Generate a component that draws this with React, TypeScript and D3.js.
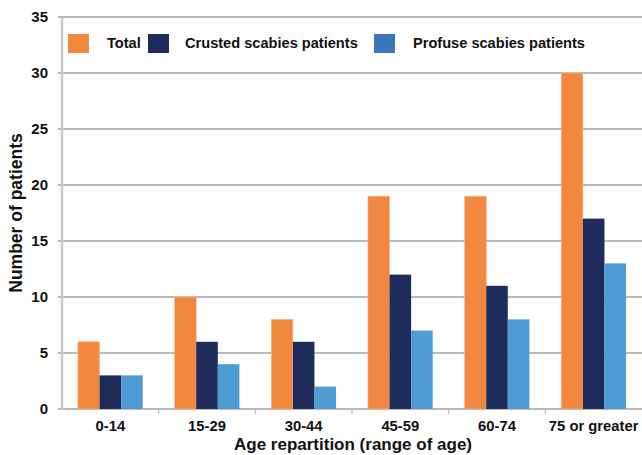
import React from "react";
import * as d3 from "d3";

const WIDTH = 642;
const HEIGHT = 455;
const MARGIN = { top: 17, right: 0, bottom: 46, left: 62 };

const categories = ["0-14", "15-29", "30-44", "45-59", "60-74", "75 or greater"];
const seriesKeys = ["Total", "Crusted scabies patients", "Profuse scabies patients"];
const totalValues = [6, 10, 8, 19, 19, 30];
const crustedValues = [3, 6, 6, 12, 11, 17];
const profuseValues = [3, 4, 2, 7, 8, 13];
const yTicks = [0, 5, 10, 15, 20, 25, 30, 35];

const barColors = ["#f2873f", "#1d2c5b", "#4e9bd5"];
const legendColors = ["#f2873f", "#1d2c5b", "#3c74bb"];
const FONT = "'Liberation Sans', Arial, sans-serif";

const App = () => {
  const boundsWidth = WIDTH - MARGIN.left - MARGIN.right;
  const boundsHeight = HEIGHT - MARGIN.top - MARGIN.bottom;
  const values = [totalValues, crustedValues, profuseValues];

  const xScale = d3.scaleBand().domain(categories).range([0, boundsWidth]).padding(0);
  const groupWidth = xScale.bandwidth() * 0.67;
  const xInner = d3
    .scaleBand()
    .domain(seriesKeys)
    .range([(xScale.bandwidth() - groupWidth) / 2, (xScale.bandwidth() + groupWidth) / 2]);
  const yScale = d3.scaleLinear().domain([0, 35]).range([boundsHeight, 0]);

  // legend swatch / label offsets from plot left
  const legendX = [6, 86, 312];
  const legendTextX = [45, 123, 351];

  return (
    <svg width={WIDTH} height={HEIGHT} style={{ position: "absolute", left: 0, top: 0 }}>
      <rect width={WIDTH} height={HEIGHT} fill="#fff" />
      <g transform={`translate(${MARGIN.left},${MARGIN.top})`}>
        {/* grid lines */}
        {yTicks.map((t) => (
          <g key={t}>
            <line
              x1={-4}
              x2={boundsWidth}
              y1={yScale(t)}
              y2={yScale(t)}
              stroke="#a3a3a3"
              strokeWidth={1.3}
            />
            <text
              x={-14}
              y={yScale(t)}
              dy="0.35em"
              textAnchor="end"
              fontFamily={FONT}
              fontWeight="bold"
              fontSize={15}
              fill="#111"
            >
              {t}
            </text>
          </g>
        ))}
        {/* y axis line */}
        <line x1={0} x2={0} y1={0} y2={boundsHeight} stroke="#c8c8c8" strokeWidth={2.5} />

        {/* bars */}
        {categories.map((c, i) => (
          <g key={c} transform={`translate(${xScale(c)},0)`}>
            {seriesKeys.map((k, j) => (
              <rect
                key={k}
                x={xInner(k)}
                width={xInner.bandwidth()}
                y={yScale(values[j][i])}
                height={boundsHeight - yScale(values[j][i])}
                fill={barColors[j]}
                stroke={j === 0 ? "#f7b58a" : "none"}
                strokeWidth={0.6}
              />
            ))}
          </g>
        ))}

        {/* x ticks */}
        {categories.map((c, i) =>
          i === 0 ? null : (
            <line
              key={`t${c}`}
              x1={xScale(c)}
              x2={xScale(c)}
              y1={boundsHeight}
              y2={boundsHeight + 5}
              stroke="#bdbdbd"
              strokeWidth={1.2}
            />
          )
        )}
        {categories.map((c) => (
          <text
            key={`l${c}`}
            x={(xScale(c) || 0) + xScale.bandwidth() / 2}
            y={boundsHeight + 22}
            textAnchor="middle"
            fontFamily={FONT}
            fontWeight="bold"
            fontSize={14.8}
            fill="#111"
          >
            {c}
          </text>
        ))}

        {/* legend */}
        {seriesKeys.map((k, j) => (
          <g key={`leg${k}`}>
            <rect x={legendX[j]} y={17} width={21} height={19} fill={legendColors[j]} />
            <text
              x={legendTextX[j]}
              y={31}
              fontFamily={FONT}
              fontWeight="bold"
              fontSize={14.6}
              fill="#111"
            >
              {k}
            </text>
          </g>
        ))}
      </g>

      {/* axis titles */}
      <text
        x={353}
        y={450}
        textAnchor="middle"
        fontFamily={FONT}
        fontWeight="bold"
        fontSize={17}
        fill="#111"
      >
        Age repartition (range of age)
      </text>
      <text
        transform={`translate(22,${MARGIN.top + boundsHeight / 2}) rotate(-90)`}
        textAnchor="middle"
        fontFamily={FONT}
        fontWeight="bold"
        fontSize={17.5}
        fill="#111"
      >
        Number of patients
      </text>
    </svg>
  );
};

export default App;
